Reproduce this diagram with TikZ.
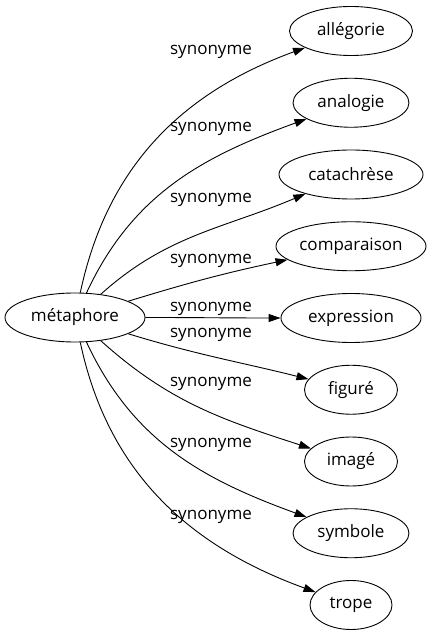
\documentclass[tikz,border=0pt]{standalone}
\usepackage{fontspec}
\setmainfont{Open Sans}
\usetikzlibrary{shapes.geometric,arrows.meta}
\tikzset{
    word/.style={draw, ellipse, inner sep=0pt, minimum height=49pt, line width=0.9pt,
        font=\fontsize{17}{20}\selectfont},
    synlabel/.style={anchor=base, inner sep=0pt, font=\fontsize{17}{20}\selectfont},
    syn/.style={-{Triangle[length=12pt,width=8pt]}, line width=0.9pt}
}

\begin{document}
\begin{tikzpicture}[x=1pt,y=1pt]
    \useasboundingbox (0,0) rectangle (436,635);
    % Source word
    \node[word, minimum width=140pt] (m) at (75,317.5) {métaphore};
    % Synonyms, top to bottom
    \foreach \txt/\mw/\ly/\outa/\ina [count=\i] in {
        allégorie/123/580/78/200,
        analogie/116/503/65/200,
        catachrèse/144/432/42/203,
        comparaison/150/371/17/192,
        expression/140/323/0/180,
        figuré/93/297/-17/166,
        imagé/93/248/-42/162,
        symbole/116/187/-65/160,
        trope/82/115/-78/160}{
        \node[word, minimum width=\mw pt] (t\i) at (351,{604-71.75*(\i-1)}) {\txt};
        \node[synlabel] (l\i) at (211,\ly) {synonyme};
        \draw[syn] (m) to[out=\outa,in=\ina] (t\i);
    }
\end{tikzpicture}
\end{document}
